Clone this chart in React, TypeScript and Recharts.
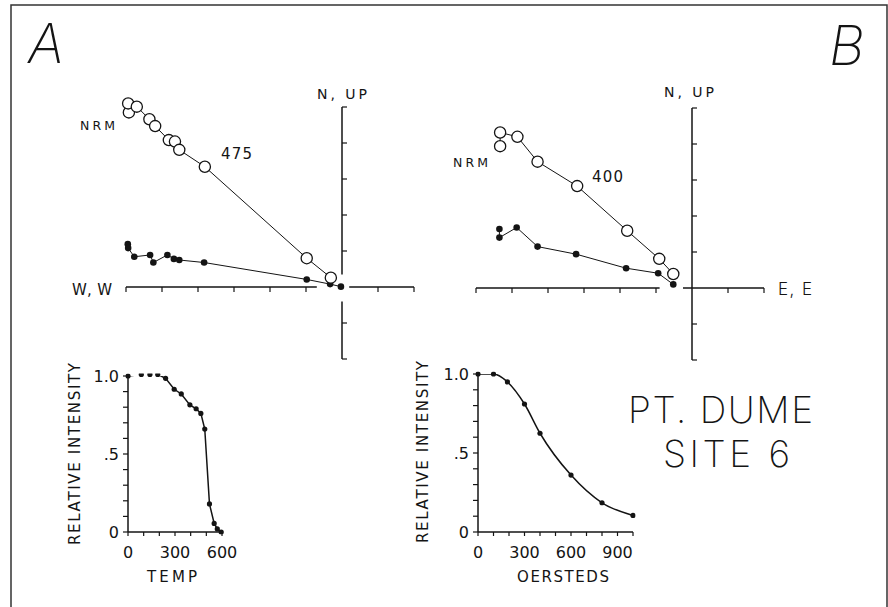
import { ScatterChart, Scatter, XAxis, YAxis, ReferenceLine, LineChart, Line } from 'recharts';

// Zijderveld A (thermal). Units = one axis tick. Open = vertical plane, filled = horizontal plane.
const zijAOpen = [
  { x: -5.92, y: 4.85 }, { x: -5.94, y: 5.1 }, { x: -5.7, y: 5.01 }, { x: -5.35, y: 4.66 },
  { x: -5.19, y: 4.47 }, { x: -4.81, y: 4.08 }, { x: -4.64, y: 4.04 }, { x: -4.52, y: 3.81 },
  { x: -3.81, y: 3.34 }, { x: -0.98, y: 0.8 }, { x: -0.31, y: 0.26 },
];
const zijAFilled = [
  { x: -5.95, y: 1.19 }, { x: -5.94, y: 1.08 }, { x: -5.77, y: 0.84 }, { x: -5.33, y: 0.89 },
  { x: -5.24, y: 0.68 }, { x: -4.85, y: 0.89 }, { x: -4.67, y: 0.78 }, { x: -4.52, y: 0.75 },
  { x: -3.83, y: 0.68 }, { x: -0.98, y: 0.21 }, { x: -0.33, y: 0.08 }, { x: -0.03, y: 0.01 },
];

// Zijderveld B (AF)
const zijBOpen = [
  { x: -5.33, y: 3.94 }, { x: -5.33, y: 4.32 }, { x: -4.85, y: 4.2 }, { x: -4.29, y: 3.51 },
  { x: -3.19, y: 2.83 }, { x: -1.8, y: 1.59 }, { x: -0.91, y: 0.81 }, { x: -0.52, y: 0.39 },
];
const zijBFilled = [
  { x: -5.35, y: 1.64 }, { x: -5.35, y: 1.4 }, { x: -4.87, y: 1.68 }, { x: -4.29, y: 1.15 },
  { x: -3.22, y: 0.94 }, { x: -1.83, y: 0.55 }, { x: -0.94, y: 0.41 }, { x: -0.52, y: 0.1 },
];

const zijTicksX = [-6, -5, -4, -3, -2, -1, 1, 2];
const zijTicksY = [5, 4, 3, 2, 1, -1, -2];

// thermal demagnetization
const thermTemp = [0, 85, 140, 190, 240, 295, 340, 395, 435, 465, 490, 520, 550, 570, 595];
const thermInt = [1.0, 1.01, 1.01, 1.01, 0.985, 0.915, 0.885, 0.815, 0.79, 0.76, 0.66, 0.18, 0.055, 0.02, 0.0];

// AF demagnetization
const afField = [0, 100, 190, 300, 400, 600, 800, 1000];
const afInt = [1.0, 1.0, 0.95, 0.81, 0.625, 0.36, 0.185, 0.105];

const intensityTicks = [0, 0.1, 0.2, 0.3, 0.4, 0.5, 0.6, 0.7, 0.8, 0.9, 1];
const intensityLabels: Record<string, string> = { '0': '0', '0.5': '.5', '1': '1.0' };
const tempTicks = [0, 100, 200, 300, 400, 500, 600];
const oeTicks = [0, 100, 200, 300, 400, 500, 600, 700, 800, 900, 1000];
const labelled = [0, 300, 600, 900];

const INK = '#141414';
const SANS = '"DejaVu Sans", "Liberation Sans", sans-serif';
const THIN = 'Inter, "Open Sans", sans-serif';

type Pt = { x: number; y: number };
type Seg = [number, number];

const OpenDot = (p: any) => <circle cx={p.cx} cy={p.cy} r={5.6} fill="#fff" stroke={INK} strokeWidth={1.3} />;
const FullDot = (p: any) => <circle cx={p.cx} cy={p.cy} r={3.3} fill={INK} stroke="none" />;

function Zijderveld({ open, filled, left, top, hSegs, vSegs }: { open: Pt[]; filled: Pt[]; left: number; top: number; hSegs: Seg[]; vSegs: Seg[] }) {
  const t = 0.14; // tick length in axis units
  const inSeg = (v: number, segs: Seg[]) => segs.some(([a, b]) => v >= a - 0.01 && v <= b + 0.01);
  return (
    <div style={{ position: 'absolute', left, top }}>
      <ScatterChart width={324} height={288} margin={{ top: 0, right: 0, bottom: 0, left: 0 }}>
        <XAxis type="number" dataKey="x" domain={[-6.5, 2.5]} hide />
        <YAxis type="number" dataKey="y" domain={[-2.5, 5.5]} hide />
        {hSegs.map(([a, b], i) => (
          <ReferenceLine key={'h' + i} segment={[{ x: a, y: 0 }, { x: b, y: 0 }]} stroke={INK} strokeWidth={1.5} />
        ))}
        {vSegs.map(([a, b], i) => (
          <ReferenceLine key={'v' + i} segment={[{ x: 0, y: a }, { x: 0, y: b }]} stroke={INK} strokeWidth={1.5} />
        ))}
        {zijTicksX.filter(v => inSeg(v, hSegs)).map(v => (
          <ReferenceLine key={'tx' + v} segment={[{ x: v, y: 0 }, { x: v, y: -t }]} stroke={INK} strokeWidth={1.2} />
        ))}
        {zijTicksY.filter(v => inSeg(v, vSegs)).map(v => (
          <ReferenceLine key={'ty' + v} segment={[{ x: 0, y: v }, { x: t, y: v }]} stroke={INK} strokeWidth={1.2} />
        ))}
        <Scatter data={filled} line={{ stroke: INK, strokeWidth: 1 }} lineType="joint" shape={FullDot} isAnimationActive={false} />
        <Scatter data={open} line={{ stroke: INK, strokeWidth: 1 }} lineType="joint" shape={OpenDot} isAnimationActive={false} />
      </ScatterChart>
    </div>
  );
}

function Decay({ xs, ys, left, top, plotW, plotH, xMax, xTicks, smooth }: { xs: number[]; ys: number[]; left: number; top: number; plotW: number; plotH: number; xMax: number; xTicks: number[]; smooth?: boolean }) {
  const data = xs.map((x, i) => ({ x, v: ys[i] }));
  const yW = 88;
  return (
    <div style={{ position: 'absolute', left, top }}>
      <LineChart width={yW + plotW + 28} height={10 + plotH + 40} data={data} margin={{ top: 10, right: 28, bottom: 0, left: 0 }}>
        <XAxis
          type="number" dataKey="x" domain={[0, xMax]} ticks={xTicks} interval={0} height={40}
          tickFormatter={(v: number) => (labelled.includes(v) ? String(v) : '')}
          tickSize={4} tickMargin={11}
          axisLine={{ stroke: INK, strokeWidth: 1.5 }} tickLine={{ stroke: INK, strokeWidth: 1.2 }}
          tick={{ fill: INK, fontSize: 16, fontFamily: SANS }}
        />
        <YAxis
          type="number" domain={[0, 1]} ticks={intensityTicks} interval={0} width={yW} allowDataOverflow
          tickFormatter={(v: number) => intensityLabels[String(v)] ?? ''}
          tickSize={5} tickMargin={4}
          axisLine={{ stroke: INK, strokeWidth: 1.5 }} tickLine={{ stroke: INK, strokeWidth: 1.2 }}
          tick={{ fill: INK, fontSize: 16, fontFamily: SANS }}
        />
        <Line
          dataKey="v" type={smooth ? 'monotone' : 'linear'} stroke={INK} strokeWidth={1.5}
          dot={{ r: 2.6, fill: INK, stroke: INK, strokeWidth: 0, clipDot: false }} isAnimationActive={false}
        />
      </LineChart>
    </div>
  );
}

export default function App() {
  return (
    <div style={{ position: 'absolute', left: 0, top: 0, width: 888, height: 607, background: '#fff', overflow: 'hidden' }}>
      <Zijderveld open={zijAOpen} filled={zijAFilled} left={108} top={89}
        hSegs={[[-6, -0.7], [0.2, 2]]} vSegs={[[0.35, 5], [-2, -0.4]]} />
      <Zijderveld open={zijBOpen} filled={zijBFilled} left={458} top={90}
        hSegs={[[-6, -0.9], [-0.25, 2]]} vSegs={[[-2, 5]]} />
      <Decay xs={thermTemp} ys={thermInt} left={40} top={366} plotW={94} plotH={156} xMax={600} xTicks={tempTicks} />
      <Decay xs={afField} ys={afInt} left={390} top={364} plotW={155} plotH={158} xMax={1000} xTicks={oeTicks} smooth />
      <svg width={888} height={607} style={{ position: 'absolute', left: 0, top: 0, pointerEvents: 'none' }}>
        <path d="M11 607 V5 H887 V607" fill="none" stroke="#333" strokeWidth={1.5} />
        <text x={28} y={63} fontFamily={THIN} fontWeight={200} fontStyle="italic" fontSize={55} fill={INK}>A</text>
        <text x={829} y={65} fontFamily={THIN} fontWeight={200} fontStyle="italic" fontSize={55} fill={INK}>B</text>

        <text x={317} y={99} fontFamily={SANS} fontSize={14} fill={INK} textLength={50}>N, UP</text>
        <text x={664} y={97} fontFamily={SANS} fontSize={14} fill={INK} textLength={50}>N, UP</text>
        <text x={80} y={130} fontFamily={SANS} fontSize={12.5} fill={INK} textLength={35}>NRM</text>
        <text x={453} y={167} fontFamily={SANS} fontSize={12.5} fill={INK} textLength={35}>NRM</text>
        <text x={221} y={159} fontFamily={SANS} fontSize={15} fill={INK} textLength={31}>475</text>
        <text x={592} y={182} fontFamily={SANS} fontSize={15} fill={INK} textLength={31}>400</text>
        <text x={72} y={295} fontFamily={SANS} fontSize={15} fill={INK} textLength={40}>W, W</text>
        <text x={778} y={295} fontFamily={THIN} fontWeight={300} fontSize={17} fill={INK} textLength={34}>E, E</text>

        <text transform="translate(80,454) rotate(-90)" textAnchor="middle" fontFamily={SANS} fontSize={15} fill={INK} textLength={182} lengthAdjust="spacing">RELATIVE INTENSITY</text>
        <text transform="translate(428,452) rotate(-90)" textAnchor="middle" fontFamily={SANS} fontSize={15} fill={INK} textLength={182} lengthAdjust="spacing">RELATIVE INTENSITY</text>
        <text x={147} y={582} fontFamily={SANS} fontSize={15} fill={INK} textLength={50}>TEMP</text>
        <text x={517} y={582} fontFamily={SANS} fontSize={15} fill={INK} textLength={92}>OERSTEDS</text>

        <text x={628} y={423} fontFamily={THIN} fontWeight={200} fontSize={37} fill={INK} textLength={185}>PT. DUME</text>
        <text x={663} y={467} fontFamily={THIN} fontWeight={200} fontSize={37} fill={INK} textLength={127}>SITE 6</text>
      </svg>
    </div>
  );
}
